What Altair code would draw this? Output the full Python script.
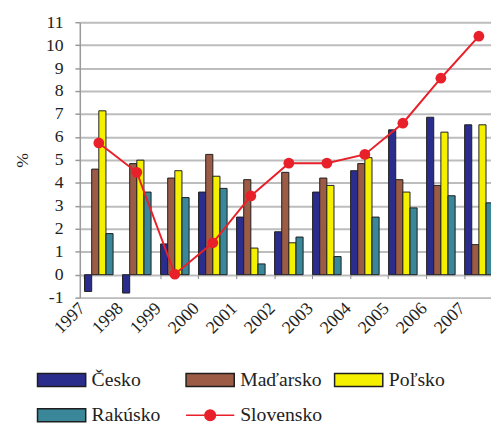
import altair as alt
import pandas as pd

years = ["1997", "1998", "1999", "2000", "2001", "2002", "2003", "2004", "2005", "2006", "2007"]
countries = ["Česko", "Maďarsko", "Poľsko", "Rakúsko"]
line_name = "Slovensko"

cesko = [-0.73, -0.80, 1.34, 3.60, 2.51, 1.87, 3.60, 4.53, 6.31, 6.86, 6.53]
madarsko = [4.60, 4.84, 4.21, 5.24, 4.14, 4.46, 4.21, 4.84, 4.14, 3.89, 1.31]
polsko = [7.14, 4.99, 4.53, 4.29, 1.16, 1.39, 3.89, 5.10, 3.60, 6.21, 6.53]
rakusko = [1.79, 3.60, 3.36, 3.76, 0.47, 1.64, 0.79, 2.51, 2.91, 3.44, 3.13]
slovensko = [5.74, 4.46, 0.02, 1.39, 3.43, 4.86, 4.86, 5.24, 6.60, 8.56, 10.39]

y_ticks = list(range(-1, 12))

bar_colors = ["#2b2d8c", "#9c5b45", "#f5f000", "#3a8799"]
red = "#e8202a"
outline = "#1e1e1e"
font = "Liberation Serif"

rows = []
for c, vals in zip(countries, [cesko, madarsko, polsko, rakusko]):
    for yr, v in zip(years, vals):
        rows.append({"year": yr, "country": c, "value": v})
bars_df = pd.DataFrame(rows)
line_df = pd.DataFrame({"year": years, "value": slovensko})
legend_df = pd.DataFrame({"country": countries + [line_name]})

all_names = countries + [line_name]
rect_path = "M-1,-0.27L1,-0.27L1,0.27L-1,0.27Z"
line_path = "M-1,0L-0.22,0A0.22,0.22 0 1 1 0.22,0L1,0M0.22,0A0.22,0.22 0 1 1 -0.22,0Z"

x_scale = alt.Scale(domain=years, range=[0, 425], paddingInner=0.25, paddingOuter=0.125)
y_scale = alt.Scale(domain=[-1, 11], nice=False, zero=False)

x_axis = alt.Axis(
    bandPosition=0, offset=-23.3, domain=False, grid=False,
    tickSize=4, tickColor="#888888", tickWidth=1,
    labelAngle=-45, labelPadding=21, labelOffset=-23, labelFont=font, labelFontSize=18,
    labelColor="#222222", labelOverlap=False, title=None,
)
y_axis = alt.Axis(
    values=y_ticks, grid=True, gridColor="#bdbdbd", gridWidth=2,
    domain=True, domainColor="#9a9a9a", domainWidth=1.5,
    tickSize=5, tickColor="#9a9a9a", tickWidth=1.5,
    labelFont=font, labelFontSize=18, labelColor="#222222", labelPadding=12,
    labelExpr="'' + datum.value", labelOverlap=False,
    title="%", titleFont=font, titleFontSize=18, titleFontWeight="normal",
    titleColor="#222222", titlePadding=14,
)

X = alt.X("year:O", scale=x_scale, axis=x_axis)
Y = alt.Y("value:Q", scale=y_scale, axis=y_axis)

bars = alt.Chart(bars_df).mark_bar(stroke=outline, strokeWidth=1, clip=True).encode(
    x=X,
    xOffset=alt.XOffset("country:N", scale=alt.Scale(domain=countries, paddingInner=0, paddingOuter=0)),
    y=Y,
    color=alt.Color("country:N", scale=alt.Scale(domain=countries, range=bar_colors), legend=None),
)

line = alt.Chart(line_df).mark_line(color=red, strokeWidth=2).encode(x=X, y=Y)
points = alt.Chart(line_df).mark_circle(color=red, size=120, opacity=1).encode(x=X, y=Y)

leg = alt.Legend(
    orient="none", legendX=-44, legendY=338, columns=3, direction="horizontal", gridAlign="all",
    columnPadding=9, rowPadding=-12, symbolSize=2401, symbolStrokeWidth=1.5, symbolOpacity=1,
    labelFont=font, labelFontSize=20, labelColor="#222222", labelOffset=5,
    title=None, symbolLimit=0,
)
legend_layer = alt.Chart(legend_df).transform_filter("false").mark_point(filled=True, opacity=1).encode(
    fill=alt.Fill("country:N", scale=alt.Scale(domain=all_names, range=bar_colors + [red]), legend=leg),
    stroke=alt.Stroke("country:N", scale=alt.Scale(domain=all_names, range=[outline] * 4 + [red]), legend=leg),
    shape=alt.Shape("country:N", scale=alt.Scale(domain=all_names, range=[rect_path] * 4 + [line_path]), legend=leg),
)

chart = alt.layer(bars, line, points, legend_layer).properties(
    width=418, height=280,
    autosize=alt.AutoSizeParams(type="none"),
    padding={"left": 73, "top": 11, "right": 0, "bottom": 125},
).configure_view(stroke=None).configure(background="white")

chart.save("out.html", embed_options={"renderer": "svg", "actions": False})
